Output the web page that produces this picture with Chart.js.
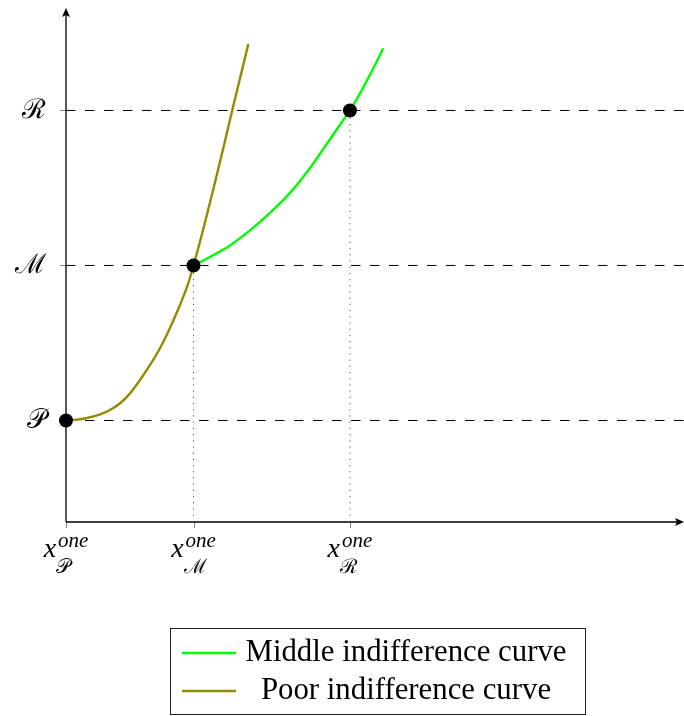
<!DOCTYPE html>
<html>
<head>
<meta charset="utf-8">
<script src="https://cdn.jsdelivr.net/npm/chart.js@4/dist/chart.umd.min.js"></script>
<style>
  html, body { margin: 0; padding: 0; background: #fff; }
  canvas { display: block; }
</style>
</head>
<body>
<canvas id="chart" width="684" height="716"></canvas>
<script>
// levels on the vertical axis (P, M, R) and where each one sits on x
const levelNames  = ['𝒫', 'ℳ', 'ℛ'];
const levelY      = [1, 2, 3];
const levelX      = [0, 1, 2.227];

// poor indifference curve
const poorX = [0, 0.11, 0.188, 0.267, 0.345, 0.424, 0.502, 0.58, 0.659, 0.737, 0.802, 0.894, 0.957,
               1.0, 1.077, 1.155, 1.234, 1.312, 1.378, 1.43];
const poorY = [1, 1.008, 1.021, 1.04, 1.068, 1.111, 1.175, 1.261, 1.358, 1.466, 1.573, 1.745, 1.881,
               2.0, 2.235, 2.49, 2.758, 3.029, 3.252, 3.429];

// middle indifference curve
const middleX = [1.0, 1.129, 1.286, 1.443, 1.6, 1.757, 1.914, 2.018, 2.123, 2.227, 2.306, 2.398, 2.489];
const middleY = [2.0, 2.055, 2.129, 2.226, 2.339, 2.468, 2.629, 2.752, 2.877, 3.0, 3.11, 3.252, 3.401];

const xMin = 0, xMax = 4.847;
const yMin = 0.345, yMax = 3.661;

const legendLabels = ['Middle indifference curve', 'Poor indifference curve'];
const GREEN = '#00ff00';
const OLIVE = '#948b00';

const toPts = (xs, ys) => xs.map((x, i) => ({ x, y: ys[i] }));

const datasets = [];

// the three marked bundles
datasets.push({
    data: toPts(levelX, levelY),
    showLine: false,
    pointRadius: 7,
    pointBackgroundColor: '#000',
    pointBorderWidth: 0,
    clip: false,
});

datasets.push({
    data: toPts(middleX, middleY),
    borderColor: GREEN,
    borderWidth: 2.4,
    pointRadius: 0,
    cubicInterpolationMode: 'monotone',
    clip: false,
});

datasets.push({
    data: toPts(poorX, poorY),
    borderColor: OLIVE,
    borderWidth: 2.4,
    pointRadius: 0,
    cubicInterpolationMode: 'monotone',
    clip: false,
});

// dashed horizontal guides
levelY.forEach(y => {
    datasets.push({
        data: [{ x: xMin, y }, { x: xMax, y }],
        borderColor: '#000',
        borderWidth: 1,
        borderDash: [9.5, 9.5],
        pointRadius: 0,
        tension: 0,
    });
});

// dotted verticals down to the x axis (not for P, it is on the axis)
levelX.slice(1).forEach((x, i) => {
    datasets.push({
        data: [{ x, y: yMin }, { x, y: levelY[i + 1] }],
        borderColor: '#555',
        borderWidth: 1,
        borderDash: [1.2, 5],
        pointRadius: 0,
        tension: 0,
    });
});

function arrowHead(ctx, x, y, dir) {
    // dir: 'up' or 'right'
    ctx.save();
    ctx.translate(x, y);
    if (dir === 'right') ctx.rotate(Math.PI / 2);
    ctx.beginPath();
    ctx.moveTo(0, 0);
    ctx.lineTo(-4, 9);
    ctx.lineTo(0, 7);
    ctx.lineTo(4, 9);
    ctx.closePath();
    ctx.fillStyle = '#000';
    ctx.fill();
    ctx.restore();
}

const axesPlugin = {
    id: 'axes',
    beforeDatasetsDraw(chart) {
        const ctx = chart.ctx;
        const xs = chart.scales.x, ys = chart.scales.y;
        const x0 = xs.getPixelForValue(xMin);
        const y0 = ys.getPixelForValue(yMin);
        const x1 = xs.getPixelForValue(xMax);
        const y1 = ys.getPixelForValue(yMax);

        ctx.save();
        // small tick marks
        ctx.strokeStyle = '#888';
        ctx.lineWidth = 1;
        levelY.forEach(v => {
            const py = Math.round(ys.getPixelForValue(v)) + 0.5;
            ctx.beginPath();
            ctx.moveTo(x0 - 6, py);
            ctx.lineTo(x0, py);
            ctx.stroke();
        });
        levelX.forEach(v => {
            const px = Math.round(xs.getPixelForValue(v)) + 0.5;
            ctx.beginPath();
            ctx.moveTo(px, y0);
            ctx.lineTo(px, y0 + 6);
            ctx.stroke();
        });

        // axis lines
        ctx.strokeStyle = '#000';
        ctx.lineWidth = 1.3;
        ctx.beginPath();
        ctx.moveTo(x0, y0);
        ctx.lineTo(x0, y1 + 5);
        ctx.moveTo(x0, y0);
        ctx.lineTo(x1 - 5, y0);
        ctx.stroke();
        arrowHead(ctx, x0, y1, 'up');
        arrowHead(ctx, x1, y0, 'right');
        ctx.restore();
    },
    afterDraw(chart) {
        const ctx = chart.ctx;
        const xs = chart.scales.x, ys = chart.scales.y;
        const x0 = xs.getPixelForValue(xMin);
        const y0 = ys.getPixelForValue(yMin);
        ctx.save();
        ctx.fillStyle = '#000';

        // y labels
        ctx.font = '27px "DejaVu Serif", serif';
        ctx.textAlign = 'right';
        ctx.textBaseline = 'middle';
        levelY.forEach((v, i) => {
            ctx.fillText(levelNames[i], x0 - 20, ys.getPixelForValue(v) + 1);
        });

        // x labels: x_{name}^{one}
        ctx.textBaseline = 'alphabetic';
        ctx.textAlign = 'left';
        levelX.forEach((v, i) => {
            const px = xs.getPixelForValue(v);
            const fx = 'italic 28px "Liberation Serif", serif';
            const fs = 'italic 21px "Liberation Serif", serif';
            const fb = '20px "DejaVu Serif", serif';
            ctx.font = fx; const wx = ctx.measureText('x').width;
            ctx.font = fs; const ws = ctx.measureText('one').width;
            ctx.font = fb; const wb = ctx.measureText(levelNames[i]).width;
            const total = wx + 2 + Math.max(ws, wb);
            const sx = px - total / 2;
            const base = y0 + 35;
            ctx.font = fx; ctx.fillText('x', sx, base);
            ctx.font = fs; ctx.fillText('one', sx + wx + 2, base - 10);
            ctx.font = fb; ctx.fillText(levelNames[i], sx + wx, base + 16);
        });

        // legend box
        const bx = 170.5, by = 628.5, bw = 415, bh = 86;
        ctx.strokeStyle = '#222';
        ctx.lineWidth = 1;
        ctx.strokeRect(bx, by, bw, bh);

        const rows = [653, 691];
        const colors = [GREEN, OLIVE];
        ctx.font = '24px "Liberation Serif", serif';
        const target = 321;
        const size = 24 * target / ctx.measureText(legendLabels[0]).width;
        ctx.font = size + 'px "Liberation Serif", serif';
        ctx.textAlign = 'center';
        ctx.textBaseline = 'middle';
        rows.forEach((ry, i) => {
            ctx.strokeStyle = colors[i];
            ctx.lineWidth = 2.4;
            ctx.beginPath();
            ctx.moveTo(182, ry);
            ctx.lineTo(236, ry);
            ctx.stroke();
            ctx.fillStyle = '#000';
            ctx.fillText(legendLabels[i], 406, ry);
        });
        ctx.restore();
    }
};

new Chart(document.getElementById('chart'), {
    type: 'line',
    data: { datasets },
    options: {
        responsive: false,
        animation: false,
        layout: { autoPadding: false, padding: { left: 66, top: 8, right: 0, bottom: 194 } },
        plugins: { legend: { display: false }, tooltip: { enabled: false } },
        scales: {
            x: { type: 'linear', min: xMin, max: xMax, display: false },
            y: { type: 'linear', min: yMin, max: yMax, display: false },
        },
    },
    plugins: [axesPlugin],
});
</script>
</body>
</html>
